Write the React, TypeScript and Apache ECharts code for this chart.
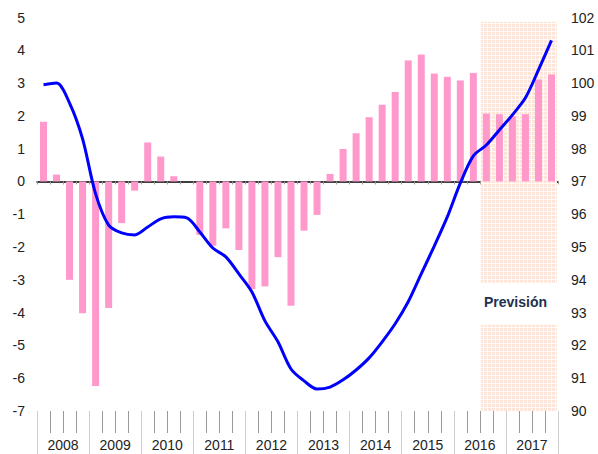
import React, { useEffect, useRef } from "react";
import * as echarts from "echarts";

const years = ["2008", "2009", "2010", "2011", "2012", "2013", "2014", "2015", "2016", "2017"];
const quarters = years.flatMap((y) => ["T1", "T2", "T3", "T4"].map((q) => `${y}${q}`));

// Left axis: quarterly growth (%)
const growth = [
  1.82, 0.21, -3.0, -4.02,
  -6.24, -3.86, -1.27, -0.28,
  1.19, 0.76, 0.16, 0.0,
  -1.63, -1.96, -1.43, -2.09,
  -3.28, -3.2, -2.31, -3.79,
  -1.5, -1.02, 0.23, 0.99,
  1.47, 1.96, 2.34, 2.73,
  3.69, 3.87, 3.29, 3.19,
  3.08, 3.31, 2.07, 2.05,
  1.99, 2.05, 3.11, 3.26,
];

// Right axis: index level
const indexLevel = [
  99.95, 100.0, 99.39, 98.3,
  96.62, 95.67, 95.43, 95.37,
  95.61, 95.86, 95.92, 95.89,
  95.46, 94.97, 94.7, 94.18,
  93.63, 92.75, 92.11, 91.28,
  90.92, 90.67, 90.73, 90.95,
  91.25, 91.62, 92.11, 92.66,
  93.33, 94.18, 95.03, 95.92,
  96.95, 97.78, 98.11, 98.57,
  99.03, 99.55, 100.4, 101.3,
];

// Forecast shaded area: [startQuarterIndex, endQuarterIndex, yTop, yBottom] (left axis units)
const forecastBlocks = [
  [34, 39, 4.87, -3.09],
  [34, 39, -4.37, -7],
];
const forecastLabel = "Previsión";

export default function App() {
  const ref = useRef<HTMLDivElement>(null);
  useEffect(() => {
    if (!ref.current) return;
    document.body.style.margin = "0";
    const chart = echarts.init(ref.current, null, { renderer: "svg" });

    const cv = document.createElement("canvas");
    cv.width = 4;
    cv.height = 4;
    const ctx = cv.getContext("2d")!;
    ctx.fillStyle = "#fde6d9";
    ctx.fillRect(0, 0, 4, 4);
    ctx.fillStyle = "rgba(255,255,255,0.8)";
    ctx.fillRect(3, 0, 1, 4);
    ctx.fillRect(0, 3, 4, 1);
    const pattern: any = { image: cv, repeat: "repeat" };

    const font = "'Liberation Sans', Arial, sans-serif";
    const option: any = {
      animation: false,
      grid: { left: 37, right: 40, top: 17.5, bottom: 43, containLabel: false },
      xAxis: [
        {
          type: "category",
          data: quarters,
          position: "bottom",
          axisLine: { onZero: true, onZeroAxisIndex: 0, lineStyle: { color: "#000", width: 1.5 } },
          axisTick: { show: true, length: 3, interval: 0, lineStyle: { color: "#999" } },
          axisLabel: { show: false },
          splitLine: { show: false },
        },
        {
          type: "category",
          data: quarters,
          position: "bottom",
          axisLine: { show: false, onZero: false },
          axisTick: { show: true, length: 22, interval: 0, lineStyle: { color: "#9a9a9a" } },
          axisLabel: { show: false },
          splitLine: { show: false },
        },
        {
          type: "category",
          data: years,
          position: "bottom",
          axisLine: { show: false, onZero: false },
          axisTick: { show: true, length: 43, interval: 0, lineStyle: { color: "#cfcfcf" } },
          axisLabel: { show: true, interval: 0, margin: 27, fontSize: 14, color: "#222", fontFamily: font },
          splitLine: { show: false },
        },
      ],
      yAxis: [
        {
          type: "value",
          min: -7,
          max: 5,
          interval: 1,
          position: "left",
          axisLine: { show: false },
          axisTick: { show: false },
          splitLine: { show: false },
          axisLabel: { margin: 12, fontSize: 14, color: "#222", fontFamily: font },
        },
        {
          type: "value",
          min: 90,
          max: 102,
          interval: 1,
          position: "right",
          axisLine: { show: false },
          axisTick: { show: false },
          splitLine: { show: false },
          axisLabel: { margin: 13, fontSize: 14, color: "#222", fontFamily: font },
        },
      ],
      series: [
        {
          type: "custom",
          xAxisIndex: 0,
          yAxisIndex: 0,
          z: 1,
          silent: true,
          encode: { x: [0, 1], y: [2, 3] },
          data: forecastBlocks,
          renderItem: (params: any, api: any) => {
            const s = api.coord([api.value(0), api.value(2)]);
            const e = api.coord([api.value(1), api.value(3)]);
            const bw = api.size([1, 0])[0];
            return {
              type: "rect",
              shape: { x: s[0] - bw / 2 + 1, y: s[1], width: e[0] - s[0] + bw - 2, height: e[1] - s[1] },
              style: { fill: pattern },
            };
          },
        },
        {
          type: "bar",
          xAxisIndex: 0,
          yAxisIndex: 0,
          z: 2,
          data: growth,
          barWidth: 7,
          itemStyle: { color: "#ff99cc" },
        },
        {
          type: "line",
          xAxisIndex: 0,
          yAxisIndex: 1,
          z: 3,
          data: indexLevel,
          showSymbol: false,
          smooth: 0.3,
          lineStyle: { color: "#0000ff", width: 3 },
        },
      ],
      graphic: [
        {
          type: "text",
          left: 484,
          top: 295,
          style: { text: forecastLabel, font: `bold 14px ${font}`, fill: "#22304f" },
        },
      ],
    };
    chart.setOption(option);
    return () => chart.dispose();
  }, []);
  return <div ref={ref} style={{ width: 598, height: 454, position: "absolute", left: 0, top: 0 }} />;
}
